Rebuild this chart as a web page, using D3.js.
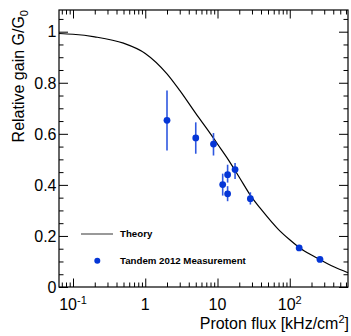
<!DOCTYPE html>
<html>
<head>
<meta charset="utf-8">
<script src="https://cdn.jsdelivr.net/npm/d3@7"></script>
<style>
  body { margin: 0; background: #fff; }
  text { font-family: "Liberation Sans", Arial, sans-serif; }
</style>
</head>
<body>
<div id="chart"></div>
<script>
var width = 351,
    height = 336;

// measurements (Tandem 2012)
var flux    = [2, 5, 8.8, 11.8, 13.8, 13.8, 17.5, 28.5, 135, 262];
var gain    = [0.653, 0.584, 0.560, 0.401, 0.440, 0.365, 0.460, 0.346, 0.153, 0.108];
var gainLow = [0.535, 0.522, 0.515, 0.358, 0.409, 0.336, 0.423, 0.323, 0.153, 0.108];
var gainHigh= [0.770, 0.645, 0.603, 0.444, 0.479, 0.395, 0.486, 0.371, 0.153, 0.108];

// theory curve
var theoryFlux = [0.064, 0.1, 0.2, 0.5, 1, 2, 3, 5, 8, 10, 14, 20, 30, 40, 70, 100, 135, 200, 260, 400, 640];
var theoryGain = [0.993, 0.99, 0.98, 0.955, 0.915, 0.835, 0.77, 0.68, 0.60, 0.56, 0.50, 0.43, 0.35, 0.305, 0.225, 0.185, 0.155, 0.125, 0.108, 0.08, 0.056];

var yTicks = [0, 0.2, 0.4, 0.6, 0.8, 1];
var xTicks = [0.1, 1, 10, 100];
var xTickLabels = [["10", "-1"], ["1", ""], ["10", ""], ["10", "2"]];

var legendLabels = ["Theory", "Tandem 2012 Measurement"];

var margin = {top: 10, right: 3, bottom: 49, left: 59};
var w = width - margin.left - margin.right,
    h = height - margin.top - margin.bottom;

var svg = d3.select("#chart").append("svg")
    .attr("width", width)
    .attr("height", height);

var g = svg.append("g").attr("transform", "translate(" + margin.left + "," + margin.top + ")");

var x = d3.scaleLog().domain([0.064, 640]).range([0, w]);
var y = d3.scaleLinear().domain([0, 1.085]).range([h, 0]);

var minorX = [];
[0.01, 0.1, 1, 10, 100].forEach(function(d) {
  for (var k = 2; k <= 9; k++) {
    var v = d * k;
    if (v >= 0.064 && v <= 640) minorX.push(v);
  }
});
var minorY = d3.range(0, 1.08, 0.05).filter(function(v) {
  return Math.abs(v * 5 - Math.round(v * 5)) > 1e-6;
});

function noDomain(sel) { sel.select(".domain").remove(); }

// ticks on all four sides, pointing inward
g.append("g").attr("transform", "translate(0," + h + ")")
  .call(d3.axisBottom(x).tickValues(minorX).tickSize(-4.5).tickFormat("")).call(noDomain);
g.append("g").attr("transform", "translate(0," + h + ")")
  .call(d3.axisBottom(x).tickValues(xTicks).tickSize(-8.5).tickFormat("")).call(noDomain);
g.append("g")
  .call(d3.axisTop(x).tickValues(minorX).tickSize(-4.5).tickFormat("")).call(noDomain);
g.append("g")
  .call(d3.axisTop(x).tickValues(xTicks).tickSize(-8.5).tickFormat("")).call(noDomain);

g.append("g")
  .call(d3.axisLeft(y).tickValues(minorY).tickSize(-4.5).tickFormat("")).call(noDomain);
g.append("g")
  .call(d3.axisLeft(y).tickValues(yTicks).tickSize(-9).tickFormat("")).call(noDomain);
g.append("g").attr("transform", "translate(" + w + ",0)")
  .call(d3.axisRight(y).tickValues(minorY).tickSize(-4.5).tickFormat("")).call(noDomain);
g.append("g").attr("transform", "translate(" + w + ",0)")
  .call(d3.axisRight(y).tickValues(yTicks).tickSize(-9).tickFormat("")).call(noDomain);

g.selectAll(".tick line").attr("stroke", "#000").attr("stroke-width", 1);

// frame
g.append("rect")
  .attr("width", w)
  .attr("height", h)
  .attr("fill", "none")
  .attr("stroke", "#000")
  .attr("stroke-width", 1.2);

// y tick labels
g.append("g").selectAll("text")
  .data(yTicks)
  .enter().append("text")
    .attr("x", -2.5)
    .attr("y", function(d) { return y(d); })
    .attr("dy", "0.36em")
    .attr("text-anchor", "end")
    .attr("font-size", 16)
    .text(function(d) { return d; });

// x tick labels with exponents
var xl = g.append("g").selectAll("text")
  .data(xTicks)
  .enter().append("text")
    .attr("x", function(d) { return x(d); })
    .attr("y", h + 23)
    .attr("text-anchor", "middle")
    .attr("font-size", 16);
xl.append("tspan").text(function(d, i) { return xTickLabels[i][0]; });
xl.append("tspan")
    .attr("dy", -6)
    .attr("font-size", 11)
    .text(function(d, i) { return xTickLabels[i][1]; });

// axis titles
var xt = svg.append("text")
    .attr("x", 349)
    .attr("y", 329)
    .attr("text-anchor", "end")
    .attr("font-size", 16);
xt.append("tspan").text("Proton flux [kHz/cm");
xt.append("tspan").attr("dy", -6).attr("font-size", 11).text("2");
xt.append("tspan").attr("dy", 6).text("]");

var yt = svg.append("text")
    .attr("transform", "translate(24,10) rotate(-90)")
    .attr("text-anchor", "end")
    .attr("font-size", 16);
yt.append("tspan").text("Relative gain G/G");
yt.append("tspan").attr("dy", 4).attr("font-size", 11).text("0");

// theory
var line = d3.line()
    .x(function(d) { return x(d[0]); })
    .y(function(d) { return y(d[1]); })
    .curve(d3.curveMonotoneX);

g.append("path")
  .datum(d3.zip(theoryFlux, theoryGain))
  .attr("fill", "none")
  .attr("stroke", "#000")
  .attr("stroke-width", 1.2)
  .attr("d", line);

// measurements
var blue = "#0536d6";
var pts = d3.range(flux.length);

g.append("g").selectAll("line")
  .data(pts)
  .enter().append("line")
    .attr("x1", function(i) { return x(flux[i]); })
    .attr("x2", function(i) { return x(flux[i]); })
    .attr("y1", function(i) { return y(gainLow[i]); })
    .attr("y2", function(i) { return y(gainHigh[i]); })
    .attr("stroke", "#2f58e0")
    .attr("stroke-width", 1.6);

g.append("g").selectAll("circle")
  .data(pts)
  .enter().append("circle")
    .attr("cx", function(i) { return x(flux[i]); })
    .attr("cy", function(i) { return y(gain[i]); })
    .attr("r", 3.4)
    .attr("fill", blue);

// legend
var legend = svg.append("g")
    .attr("font-size", 9.7)
    .attr("font-weight", "bold");

legend.append("line")
  .attr("x1", 81).attr("x2", 113)
  .attr("y1", 234).attr("y2", 234)
  .attr("stroke", "#555")
  .attr("stroke-width", 1.2);
legend.append("circle")
  .attr("cx", 97.3).attr("cy", 260.7)
  .attr("r", 3)
  .attr("fill", blue);
legend.selectAll("text")
  .data(legendLabels)
  .enter().append("text")
    .attr("x", 120)
    .attr("y", function(d, i) { return 234 + i * 26.7; })
    .attr("dy", "0.35em")
    .text(function(d) { return d; });
</script>
</body>
</html>
